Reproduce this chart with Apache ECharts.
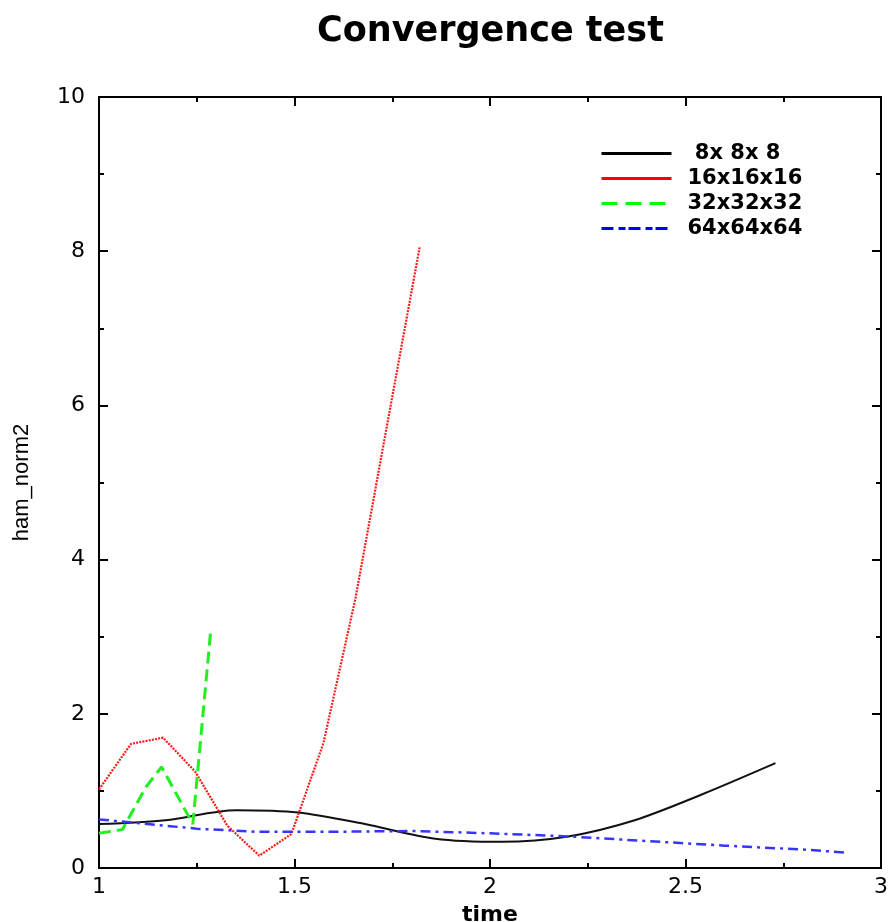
<!DOCTYPE html>
<html>
<head>
<meta charset="utf-8">
<script src="https://cdn.jsdelivr.net/npm/echarts@6/dist/echarts.min.js"></script>
<style>html,body{margin:0;padding:0;background:#fff}#c{width:892px;height:922px}</style>
</head>
<body>
<div id="c"></div>
<script>
// ---- data ----
const seriesNames = [' 8x 8x 8', '16x16x16', '32x32x32', '64x64x64'];
const xTickLabels = ['1', '1.5', '2', '2.5', '3'];
const yTickLabels = ['0', '2', '4', '6', '8', '10'];

const black_x = [1.0, 1.17, 1.35, 1.51, 1.68, 1.86, 2.03, 2.2, 2.37, 2.54, 2.73];
const black_y = [0.57, 0.62, 0.75, 0.72, 0.57, 0.38, 0.34, 0.41, 0.62, 0.95, 1.36];

const red_x = [1.0, 1.082, 1.164, 1.246, 1.328, 1.41, 1.492, 1.574, 1.656, 1.738, 1.82];
const red_y = [1.02, 1.61, 1.69, 1.25, 0.55, 0.16, 0.44, 1.62, 3.5, 5.78, 8.05];

const green_x = [1.0, 1.06, 1.12, 1.16, 1.24, 1.285];
const green_y = [0.45, 0.5, 1.05, 1.31, 0.57, 3.04];

const blue_x = [1.0, 1.25, 1.4, 1.6, 1.8, 2.0, 2.2, 2.4, 2.6, 2.8, 2.91];
const blue_y = [0.63, 0.51, 0.47, 0.47, 0.48, 0.45, 0.41, 0.35, 0.29, 0.24, 0.2];

const zip = (xs, ys) => xs.map((x, i) => [x, ys[i]]);

const chart = echarts.init(document.getElementById('c'), null, {renderer: 'canvas'});
const axisLine = {show: true, onZero: false, lineStyle: {color: '#000', width: 2}};
const tickX = {show: true, inside: true, length: 9, lineStyle: {color: '#000', width: 2}};
const minorX = {show: true, splitNumber: 2, length: 5, lineStyle: {color: '#000', width: 2}};
const labelFont = {color: '#000', fontFamily: 'DejaVu Sans', fontSize: 22};
const hiddenDot = {opacity: 0, borderWidth: 0};

chart.setOption({
  animation: false,
  backgroundColor: '#fff',
  title: {
    text: 'Convergence test',
    left: 312, top: 9,
    textStyle: {fontFamily: 'DejaVu Sans', fontWeight: 'bold', fontSize: 35, color: '#000'}
  },
  grid: {left: 99, right: 11, top: 97, bottom: 54, containLabel: false, outerBoundsMode: 'none'},
  legend: {
    orient: 'vertical',
    left: 595, top: 138,
    itemWidth: 70, itemHeight: 14, itemGap: 4,
    textStyle: {fontFamily: 'DejaVu Sans', fontWeight: 'bold', fontSize: 21, color: '#000', lineHeight: 20, padding: [0, 0, 0, 11]},
    data: [
      {name: seriesNames[0], itemStyle: hiddenDot, lineStyle: {type: 'solid', width: 3, color: '#000'}},
      {name: seriesNames[1], itemStyle: hiddenDot, lineStyle: {type: 'solid', width: 3, color: '#ff0000'}},
      {name: seriesNames[2], itemStyle: hiddenDot, lineStyle: {type: [16, 8], width: 3, color: '#00ff00'}},
      {name: seriesNames[3], itemStyle: hiddenDot, lineStyle: {type: [12, 5, 7, 3], width: 3, color: '#0000ff'}}
    ]
  },
  xAxis: [
    {
      type: 'value', position: 'bottom', min: 1, max: 3, interval: 0.5,
      name: 'time', nameLocation: 'middle', nameGap: 36,
      nameTextStyle: {fontFamily: 'DejaVu Sans', fontWeight: 'bold', fontSize: 22, color: '#000'},
      axisLine: axisLine, axisTick: tickX, minorTick: minorX,
      splitLine: {show: false}, minorSplitLine: {show: false},
      axisLabel: Object.assign({margin: 8, formatter: v => xTickLabels[Math.round((v - 1) / 0.5)] ?? ''}, labelFont)
    },
    {
      type: 'value', position: 'top', min: 1, max: 3, interval: 0.5,
      axisLine: axisLine, axisTick: tickX, minorTick: minorX,
      splitLine: {show: false}, axisLabel: {show: false}
    }
  ],
  yAxis: [
    {
      type: 'value', position: 'left', min: 0, max: 10, interval: 2,
      name: 'ham_norm2', nameLocation: 'middle', nameGap: 66, nameRotate: 90,
      nameTextStyle: {fontFamily: 'Liberation Sans', fontSize: 22, color: '#000'},
      axisLine: axisLine, axisTick: tickX, minorTick: minorX,
      splitLine: {show: false}, minorSplitLine: {show: false},
      axisLabel: Object.assign({margin: 14, formatter: v => yTickLabels[Math.round(v / 2)] ?? ''}, labelFont)
    },
    {
      type: 'value', position: 'right', min: 0, max: 10, interval: 2,
      axisLine: axisLine, axisTick: tickX, minorTick: minorX,
      splitLine: {show: false}, axisLabel: {show: false}
    }
  ],
  series: [
    {name: seriesNames[0], type: 'line', data: zip(black_x, black_y), showSymbol: false, symbol: 'none', smooth: 0.3,
     lineStyle: {color: '#111', width: 2, type: 'solid'}, itemStyle: {color: '#000'}},
    {name: seriesNames[1], type: 'line', data: zip(red_x, red_y), showSymbol: false, symbol: 'none',
     lineStyle: {color: '#ff1a1a', width: 2.2, type: [2, 1.2]}, itemStyle: {color: '#ff0000'}},
    {name: seriesNames[2], type: 'line', data: zip(green_x, green_y), showSymbol: false, symbol: 'none',
     lineStyle: {color: '#22ee22', width: 3, type: [12, 6]}, itemStyle: {color: '#00ff00'}},
    {name: seriesNames[3], type: 'line', data: zip(blue_x, blue_y), showSymbol: false, symbol: 'none',
     lineStyle: {color: '#3535ff', width: 2.5, type: [10, 5, 3, 5]}, itemStyle: {color: '#0000ff'}}
  ]
});
</script>
</body>
</html>
